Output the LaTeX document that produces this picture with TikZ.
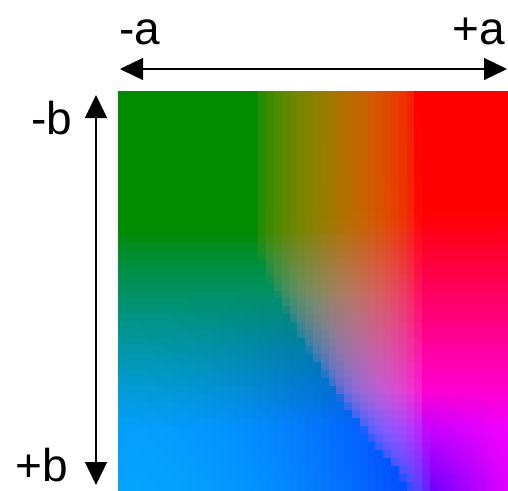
\documentclass[tikz,border=0pt]{standalone}
\usepackage{xcolor}
\usepackage{tikz}
\usepackage{fontspec}
\setmainfont{Liberation Sans}
\usetikzlibrary{calc,arrows.meta,positioning}
\definecolor{abInk}{RGB}{0,0,0}

\begin{document}
\begin{tikzpicture}[x=1pt,y=-1pt,
    axlabel/.style={font=\fontsize{46}{46}\selectfont, text=abInk, inner sep=0pt, text depth=0pt, anchor=base west},
    axarrow/.style={abInk, line width=1.3pt, {Triangle[length=23pt,width=22pt]}-{Triangle[length=23pt,width=22pt]}}]
    \useasboundingbox (0,0) rectangle (508,490);
    % colour plane, one cell at a time
    \foreach \i in {0,...,49}{
      \foreach \j in {0,...,49}{
        \pgfmathsetmacro\u{(\i+0.5)/50}
        \pgfmathsetmacro\v{(\j+0.5)/50}
        \pgfmathsetmacro\bl{0.35+0.36*(max(\v-0.35,0.0001)/0.6)^1.4}
        \pgfmathsetmacro\br{0.77+0.03*\v*\v}
        \pgfmathsetmacro\lg{140+25*max(\v-0.35,0)/0.65-90*max(\v-0.5,0)/0.5*(min(\u/\bl,1))^2}
        \pgfmathsetmacro\lb{min(255,255*(max(\v-0.35,0.0001)/0.5)^0.8)}
        \pgfmathsetmacro\e{max(\v-0.75,0)/0.25}
        \pgfmathsetmacro\w{max(0,(\u-\br)/(1-\br))}
        \pgfmathsetmacro\rr{255-30*\e-120*\e*(1-\w)}
        \pgfmathsetmacro\rb{min(255,255*max(\v-0.3,0)/0.55)}
        \pgfmathsetmacro\t{max(0.00001,min(1,(\u-\bl)/(\br-\bl)))}
        \pgfmathsetmacro\p{0.6-0.3*max(\v-0.35,0)/0.65}
        \pgfmathtruncatemacro\R{max(0,min(255,\rr*\t^\p))}
        \pgfmathtruncatemacro\G{max(0,min(255,\lg*(max(0,1-\t*\t))^0.6))}
        \pgfmathtruncatemacro\B{max(0,min(255,(1-\t)*\lb+\t*\rb))}
        \definecolor{cellc}{RGB}{\R,\G,\B}
        \fill[cellc] (118+\i*7.8,91+\j*7.98) rectangle ++(8.4,8.6);
      }
    }
    \coordinate (aneg) at (120,69);
    \coordinate (apos) at (507,69);
    \coordinate (bneg) at (96,95);
    \coordinate (bpos) at (96,485);
    \draw[axarrow] (aneg) -- (apos);
    \draw[axarrow] (bneg) -- (bpos);
    \node[axlabel] (lblaneg) at (119,44) {-a};
    \node[axlabel] (lblapos) at (452,44) {+a};
    \node[axlabel] (lblbneg) at (31,134) {-b};
    \node[axlabel] (lblbpos) at (15,481) {+b};
\end{tikzpicture}
\end{document}
